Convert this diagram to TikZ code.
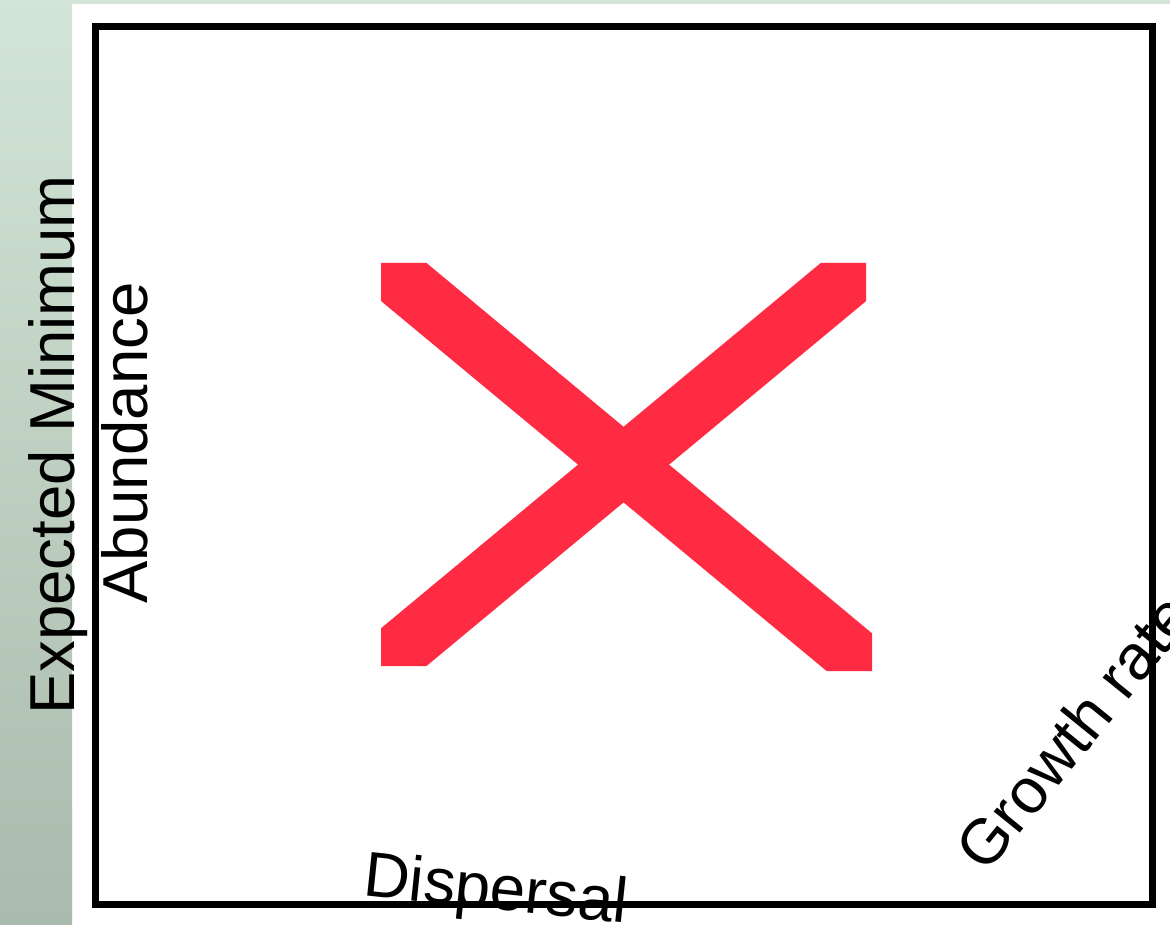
\documentclass[tikz,border=0pt]{standalone}
\usepackage{fontspec}
\setmainfont{Liberation Sans}
\definecolor{xred}{RGB}{255,43,67}
\definecolor{striptop}{RGB}{211,229,214}
\definecolor{stripbot}{RGB}{170,186,172}
\tikzset{
  axlabel/.style={inner sep=0pt, font=\fontsize{63.5}{76}\selectfont, text=black},
  frame/.style={draw=black, line width=7pt},
  cross/.style={fill=xred, draw=none}
}
\begin{document}
\begin{tikzpicture}[x=1pt,y=-1pt]
\useasboundingbox (0,0) rectangle (1170,925);
\clip (0,0) rectangle (1170,925);
\fill[white] (0,0) rectangle (1170,925);
% background strips
\shade[top color=striptop, bottom color=stripbot] (0,0) rectangle (72,925);
\fill[striptop] (72,0) rectangle (1170,4);
% frame
\draw[frame] (95,26.5) rectangle (1152,904);
% red cross
\path[cross] (381,263) -- (426.5,263) -- (872,633.3) -- (872,671) -- (826.6,671) -- (381,301) -- cycle;
\path[cross] (820.7,263) -- (866.2,263) -- (866.2,301) -- (426.5,666) -- (381,666) -- (381,628.3) -- cycle;
% labels
\node[axlabel, rotate=90, anchor=base] (expmin) at (74,445) {Expected Minimum};
\node[axlabel, rotate=90, anchor=base] (abund) at (147,443) {Abundance};
\node[axlabel, rotate=-6, anchor=base] (disp) at (494,909.5) {Dispersal};
\node[axlabel, rotate=51, anchor=base] (growth) at (1091,746) {Growth rate};
\end{tikzpicture}
\end{document}
